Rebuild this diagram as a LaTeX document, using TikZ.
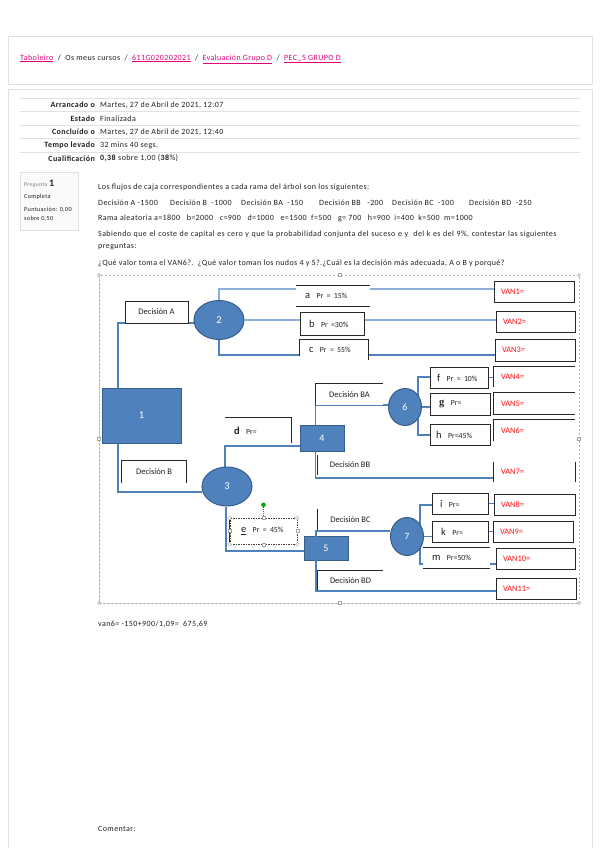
\documentclass[tikz,border=0pt]{standalone}
\usepackage{fontspec}
\setmainfont{Carlito}[LetterSpace=5]
\newfontfamily\diafam{Carlito}
\newfontfamily\serifb{Liberation Serif}
\usetikzlibrary{shapes.geometric,calc}
\definecolor{pinkc}{RGB}{222,0,125}
\definecolor{wblue}{RGB}{79,129,189}
\definecolor{wdark}{RGB}{56,93,138}
\definecolor{wline}{RGB}{79,129,189}
\definecolor{wlight}{RGB}{141,176,218}
\definecolor{bord}{RGB}{222,226,230}
\definecolor{txt}{RGB}{29,33,37}
\definecolor{bx}{RGB}{40,40,40}
\definecolor{vanred}{RGB}{255,20,20}
\newcommand{\bodyfont}{\fontsize{8}{9.5}\selectfont}
\newcommand{\diafont}{\diafam\fontsize{8.5}{10}\selectfont}
\newcommand{\vanfont}{\diafam\fontsize{8.4}{10}\selectfont}
\newcommand{\probl}[2]{{\diafam\fontsize{10.5}{10}\selectfont #1}\hspace{6.5pt}{\diafam\fontsize{7.8}{7}\selectfont #2}}
\pgfdeclarelayer{bgA}\pgfdeclarelayer{bgB}\pgfsetlayers{bgA,bgB,main}
\tikzset{
  every node/.style={text=txt},
  blk/.style={rectangle, fill=wblue, draw=wdark, line width=1pt, text=white, inner sep=0, font=\diafam\fontsize{10.5}{11}\selectfont},
  ell/.style={ellipse, fill=wblue, draw=wdark, line width=1pt, text=white, inner sep=0, font=\diafam\fontsize{10.5}{11}\selectfont},
  lbox/.style={fill=white, inner sep=0, font=\diafont},
  pbox/.style={fill=white, inner ysep=0, align=left},
  vbox/.style={fill=white, inner ysep=0, inner xsep=7pt, text=vanred, font=\vanfont, align=left},
  bxl/.style={draw=bx, line width=0.8pt},
  ln/.style={draw=wline, line width=1.2pt},
  lnl/.style={draw=wlight, line width=1.2pt},
  tl/.style={anchor=west, inner sep=0, font=\bodyfont},
  hdl/.style={draw=gray!70, fill=white, line width=0.4pt},
}
\begin{document}
\begin{tikzpicture}[x=1pt,y=-1pt]
\useasboundingbox (0,0) rectangle (600,848);
\begin{pgfonlayer}{bgA}
\fill[white] (0,0) rectangle (600,848);
\end{pgfonlayer}
% cards
\draw[bord, line width=0.8pt] (8,36) rectangle (592,84);
\draw[bord, line width=0.8pt] (8,848) -- (8,89) -- (592,89) -- (592,848);
\node[tl] (crumb) at (20,59) {\textcolor{pinkc}{\underline{Taboleiro}}\ \ /\ \ Os meus cursos\ \ /\ \ \textcolor{pinkc}{\underline{611G020202021}}\ \ /\ \ \textcolor{pinkc}{\underline{Evaluación Grupo D}}\ \ /\ \ \textcolor{pinkc}{\underline{PEC\_5 GRUPO D}}};
% summary table
\foreach \yy in {98,111.5,125,138.5,152} \draw[bord, line width=0.7pt] (20,\yy) -- (580,\yy);
\node[anchor=east, inner sep=0, font=\bodyfont\bfseries] (l1) at (95,105) {Arrancado o};
\node[anchor=east, inner sep=0, font=\bodyfont\bfseries] (l2) at (95,118.5) {Estado};
\node[anchor=east, inner sep=0, font=\bodyfont\bfseries] (l3) at (95,132) {Concluído o};
\node[anchor=east, inner sep=0, font=\bodyfont\bfseries] (l4) at (95,145.5) {Tempo levado};
\node[anchor=east, inner sep=0, font=\bodyfont\bfseries] (l5) at (95,158.5) {Cualificación};
\node[tl] (v1) at (100,105) {Martes, 27 de Abril de 2021, 12:07};
\node[tl] (v2) at (100,118.5) {Finalizada};
\node[tl] (v3) at (100,132) {Martes, 27 de Abril de 2021, 12:40};
\node[tl] (v4) at (100,145.5) {32 mins 40 segs.};
\node[tl] (v5) at (100,158.5) {\textbf{0,38} sobre 1,00 (\textbf{38}\%)};
% question info box
\node[draw=bord, fill=gray!4, minimum width=58, minimum height=58, anchor=north west, inner sep=0] (qbox) at (20,172) {};
\node[anchor=west, inner sep=0, font=\fontsize{5.8}{6}\selectfont, text=gray] (qp) at (24,184) {Pregunta \textcolor{txt}{\fontsize{10}{10}\selectfont\bfseries 1}};
\node[anchor=west, inner sep=0, font=\fontsize{6.2}{7}\selectfont] (qc) at (24,197) {Completa};
\node[anchor=west, inner sep=0, font=\fontsize{6.2}{7}\selectfont] (qs1) at (24,210) {Puntuación: 0,00};
\node[anchor=west, inner sep=0, font=\fontsize{6.2}{7}\selectfont] (qs2) at (24,219) {sobre 0,50};
% question text
\node[tl] (q1) at (98,187) {Los flujos de caja correspondientes a cada rama del árbol son los siguientes:};
\node[tl] (q2a) at (98,203) {Decisión A -1500};
\node[tl] (q2b) at (170,203) {Decisión B\ \ -1000};
\node[tl] (q2c) at (241,203) {Decisión BA\ \ -150};
\node[tl] (q2d) at (319,203) {Decisión BB\ \ \ -200};
\node[tl] (q2e) at (392,203) {Decisión BC\ \ -100};
\node[tl] (q2f) at (469,203) {Decisión BD\ \ -250};
\node[tl] (q3) at (98,218) {Rama aleatoria a=1800\ \ \ b=2000\ \ \ c=900\ \ \ d=1000\ \ \ e=1500\ \ f=500\ \ \ g= 700\ \ \ h=900\ \ i=400\ \ k=500\ \ m=1000};
\node[tl] (q4) at (98,234) {\spaceskip=2.6pt plus 1pt Sabiendo que el coste de capital es cero y que la probabilidad conjunta del suceso e y\ \ del k es del 9\%, contestar las siguientes};
\node[tl] (q5) at (98,247) {preguntas:};
\node[tl] (q6) at (98,263) {¿Qué valor toma el VAN6?.\ \ ¿Qué valor toman los nudos 4 y 5?.¿Cuál es la decisión más adecuada, A o B y porqué?};
% selection frame
\draw[gray!60, line width=0.5pt, dash pattern=on 2.5pt off 1.5pt] (99,275) rectangle (579,603);
\foreach \p in {(99,275),(579,275),(99,603),(579,603)} \draw[hdl] \p circle (1.5);
\foreach \p in {(340,275),(340,603),(99,439),(579,439)} \draw[hdl] \p ++(-1.5,-1.5) rectangle ++(3,3);
% decision / chance nodes
\node[blk, minimum width=79, minimum height=55] (n1) at (141.5,415.5) {1};
\node[ell, minimum width=50, minimum height=39] (n2) at (219,320) {2};
\node[ell, minimum width=50, minimum height=39] (n3) at (227,486.5) {3};
\node[blk, minimum width=44, minimum height=26, font=\diafam\fontsize{10}{11}\selectfont] (n4) at (322,438) {4};
\node[blk, minimum width=44, minimum height=24, font=\diafam\fontsize{10}{11}\selectfont] (n5) at (326,548) {5};
\node[ell, minimum width=33, minimum height=37, font=\diafam\fontsize{10}{11}\selectfont] (n6) at (405,407) {6};
\node[ell, minimum width=33, minimum height=38, font=\diafam\fontsize{9.5}{11}\selectfont] (n7) at (407,536.5) {7};
% decision labels
\node[lbox, draw=bx, line width=0.8pt, minimum width=63, minimum height=22] (decA) at (156.5,312) {Decisión A};
\node[lbox, minimum width=64, minimum height=22] (decB) at (154,472) {Decisión B};
\draw[bxl] (decB.south west) -- (decB.north west) -- (decB.north east) -- (decB.south east);
\node[lbox, minimum width=67, minimum height=21] (decBA) at (349.5,394.5) {Decisión BA};
\draw[bxl] (decBA.south west) -- (decBA.north west) -- (decBA.north east);
\node[lbox, minimum width=64, minimum height=20] (decBB) at (350,465) {Decisión BB};
\draw[bxl] (decBB.north west) -- (decBB.south west);
\node[lbox, minimum width=65, minimum height=22] (decBC) at (350.5,520) {Decisión BC};
\draw[bxl] (decBC.north west) -- (decBC.south west) -- (decBC.south east);
\node[lbox, minimum width=65, minimum height=20] (decBD) at (350.5,581) {Decisión BD};
\draw[bxl] (decBD.south west) -- (decBD.north west) -- (decBD.north east);
% probability boxes
\node[pbox, inner xsep=9pt, text width=56, minimum height=20] (pa) at (333,296) {\probl{a}{Pr = 15\%}};
\draw[bxl] (pa.north west) -- (pa.north east) (pa.south west) -- (pa.south east);
\node[pbox, draw=bx, line width=0.8pt, inner xsep=9pt, text width=46, minimum height=23] (pb) at (332,323.5) {\probl{b}{Pr =30\%}};
\node[pbox, inner xsep=9pt, text width=50, minimum height=20] (pc) at (334,350) {\probl{c}{Pr = 55\%}};
\draw[bxl] ($(pc.north west)+(0,16)$) -- (pc.north west) -- (pc.north east) -- ($(pc.north east)+(0,20)$);
\node[pbox, inner xsep=9pt, text width=48, minimum height=25] (pd) at (258,430.5) {\probl{\bfseries d}{Pr=}};
\draw[bxl] (pd.north west) -- (pd.north east) -- (pd.south east);
\node[pbox, inner xsep=11pt, text width=45, minimum height=26] (pe) at (263.5,531) {\probl{\underline{e}}{Pr = 45\%}};
\draw[black!75, line width=0.5pt, dash pattern=on 1.5pt off 1pt] (pe.north west) rectangle (pe.south east);
\draw[black!80, line width=0.7pt] (pe.north west) -- (pe.south west);
\draw[black!60, line width=0.4pt, dash pattern=on 1pt off 1pt] (pe.north) -- ++(0,-11);
\fill[green!65!black] ($(pe.north)+(0,-13)$) circle (2.3);
\foreach \a in {north west,north east,south west,south east} \draw[hdl] (pe.\a) circle (1.8);
\foreach \a in {north,south,west,east} \draw[hdl] (pe.\a) ++(-1.5,-1.5) rectangle ++(3,3);
\node[pbox, draw=bx, line width=0.8pt, inner xsep=7pt, text width=44, minimum height=21] (pf) at (459,377.5) {\probl{f}{Pr = 10\%}};
\node[pbox, draw=bx, line width=0.8pt, inner xsep=9pt, text width=42, minimum height=22] (pg) at (460,404) {\probl{\serifb\bfseries g}{Pr=}};
\node[pbox, draw=bx, line width=0.8pt, inner xsep=6pt, text width=48, minimum height=21] (ph) at (460,434.5) {\probl{h}{Pr=45\%}};
\node[pbox, draw=bx, line width=0.8pt, inner xsep=8pt, text width=40, minimum height=21] (pi) at (460,503.5) {\probl{i}{Pr=}};
\node[pbox, draw=bx, line width=0.8pt, inner xsep=9pt, text width=38, minimum height=21] (pk) at (460,531.5) {\probl{k}{Pr=}};
\node[pbox, inner xsep=9pt, text width=49, minimum height=20] (pm) at (456.5,558) {\probl{m}{Pr=50\%}};
\draw[bxl] (pm.north west) -- (pm.north east) (pm.south west) -- (pm.south east);
% VAN boxes
\node[vbox, draw=bx, line width=0.8pt, text width=66, minimum height=21] (van1) at (534,291.5) {VAN1=};
\node[vbox, draw=bx, line width=0.8pt, text width=65, minimum height=21] (van2) at (535.5,321.5) {VAN2=};
\node[vbox, draw=bx, line width=0.8pt, text width=66, minimum height=22] (van3) at (535,350) {VAN3=};
\node[vbox, text width=67, minimum height=20] (van4) at (534.5,377) {VAN4=};
\draw[bxl] (van4.south west) -- (van4.north west) -- (van4.north east);
\node[vbox, text width=67, minimum height=21] (van5) at (534.5,403.5) {VAN5=};
\draw[bxl] (van5.north east) -- (van5.north west) -- (van5.south west) -- (van5.south east);
\node[vbox, text width=67, minimum height=21] (van6) at (534.5,430.5) {VAN6=};
\draw[bxl] (van6.south west) -- (van6.north west) -- (van6.north east);
\node[vbox, text width=67, minimum height=20] (van7) at (534.5,472) {VAN7=};
\draw[bxl] (van7.north west) -- (van7.south west) (van7.north east) -- (van7.south east);
\node[vbox, draw=bx, line width=0.8pt, text width=67, minimum height=21] (van8) at (534.5,504.5) {VAN8=};
\node[vbox, draw=bx, line width=0.8pt, text width=66, minimum height=21] (van9) at (533,531.5) {VAN9=};
\node[vbox, draw=bx, line width=0.8pt, text width=65, minimum height=21] (van10) at (535.5,558.5) {VAN10=};
\node[vbox, draw=bx, line width=0.8pt, text width=66, minimum height=21] (van11) at (536,588.5) {VAN11=};
% connectors
\coordinate (k1) at (118,323);
\coordinate (k2) at (118,492);
\coordinate (k3) at (219,289);
\coordinate (k4) at (219,355);
\coordinate (k5) at (225,446);
\coordinate (k6) at (226,551);
\coordinate (k7) at (315.5,405);
\coordinate (k8) at (315.5,478);
\coordinate (k9) at (316,531);
\coordinate (k10) at (316,591);
\coordinate (k11) at (418,377);
\coordinate (k12) at (418,435);
\coordinate (k13) at (420,505);
\coordinate (k14) at (420,564);
\begin{pgfonlayer}{bgB}
\draw[ln] (n1.north -| k1) -- (k1) -- (k1 -| n2.west);
\draw[ln] (n1.south -| k2) -- (k2) -- (k2 -| n3.west);
\draw[lnl] (n2.north) -- (k3) -- (k3 -| van1.west);
\draw[lnl] (n2.east) -- (n2.east -| van2.west);
\draw[ln] (n2.south) -- (k4) -- (k4 -| van3.west);
\draw[ln] (n3.north -| k5) -- (k5) -- (k5 -| n4.west);
\draw[ln] (n3.south -| k6) -- (k6) -- (k6 -| n5.west);
\draw[ln] (k7 -| n6.west) -- (k7) -- (k8) -- (k8 -| van7.west);
\draw[ln] (k11 -| pf.west) -- (k11) -- (k12) -- (k12 -| ph.west);
\draw[ln] (n6.east) -- (n6.east -| pg.west);
\draw[ln] (pf.east) -- (pf.east -| van4.west);
\draw[ln] (k13 -| pi.west) -- (k13) -- (k14) -- (k14 -| van10.west);
\draw[ln] (n7.east) -- (n7.east -| pk.west);
\draw[ln] (pi.east) -- (pi.east -| van8.west);
\draw[ln] (pk.east) -- (pk.east -| van9.west);
\end{pgfonlayer}
\draw[ln] (k9 -| n7.west) -- (k9) -- (k10) -- (k10 -| van11.west);
% answer and comment
\node[tl] (ans) at (98,624) {van6= -150+900/1,09=\ \ 675,69};
\node[tl] (com) at (98,829) {Comentar:};
\end{tikzpicture}
\end{document}
